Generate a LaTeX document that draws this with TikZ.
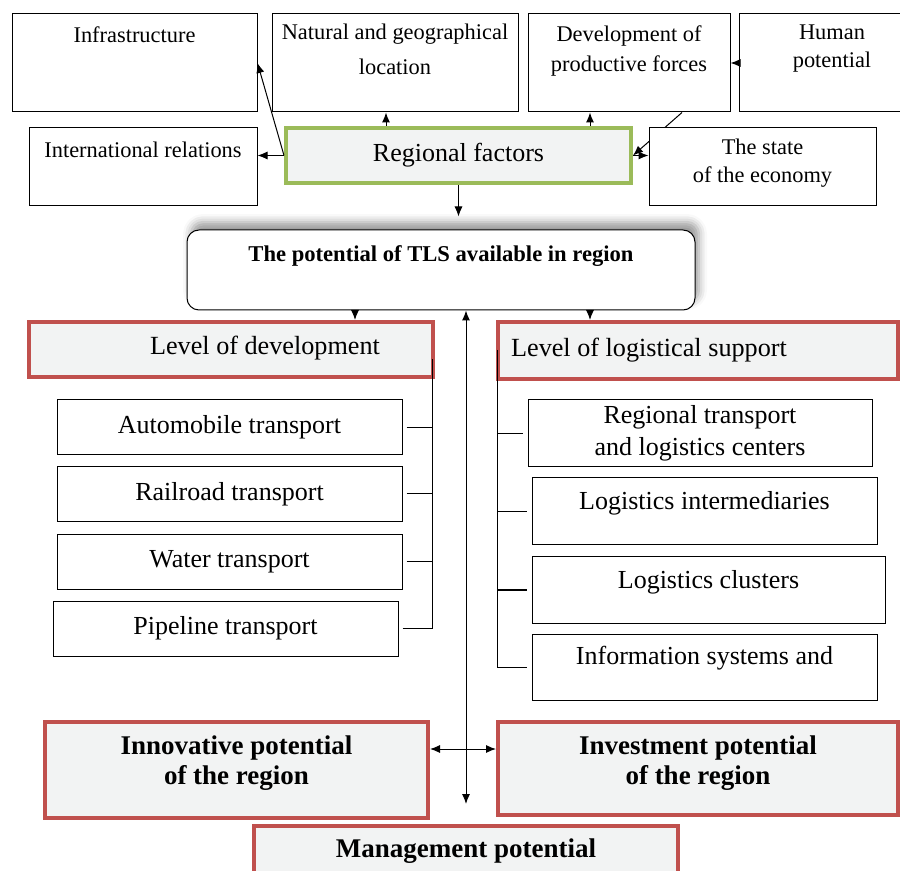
\documentclass[tikz,border=0pt]{standalone}
\usepackage{fontspec}
\setmainfont{Liberation Serif}
\usetikzlibrary{%
		arrows.meta%
		,calc%
		,shadows.blur%
	}
\definecolor{redline}{HTML}{C0504D}
\definecolor{greenline}{HTML}{9BBB59}
\definecolor{boxfill}{HTML}{F2F3F3}

\begin{document}
\begin{tikzpicture}[x=0.5pt, y=-0.5pt,
		box/.style={draw, fill=white, line width=0.5pt, inner sep=0pt},
		redbox/.style={draw=redline, fill=boxfill, line width=2pt, inner sep=0pt},
		greenbox/.style={draw=greenline, fill=boxfill, line width=2pt, inner sep=0pt},
		smalltext/.style={font=\fontsize{11.2}{15}\selectfont, align=center},
		midtext/.style={font=\fontsize{13}{16}\selectfont, align=center},
		bigtext/.style={font=\bfseries\fontsize{13.5}{15}\selectfont, align=center},
		arr/.style={-{Latex[length=5pt, width=4pt]}, line width=0.5pt},
		twoarr/.style={{Latex[length=5pt, width=4pt]}-{Latex[length=5pt, width=4pt]}, line width=0.5pt}
	]
			\useasboundingbox (0,0) rectangle (900,871);
			
			\node[box, minimum width=122.5pt, minimum height=49pt, label={[smalltext, yshift=14pt]center:Infrastructure}] (infra) at (134.5,63) {};
			\node[box, minimum width=123pt, minimum height=49pt, label={[smalltext, yshift=6.75pt, font=\fontsize{11.2}{17.5}\selectfont]center:Natural and geographical\\location}] (nat) at (395,63) {};
			\node[box, minimum width=101pt, minimum height=49pt, label={[smalltext, yshift=6pt]center:Development of\\productive forces}] (dev) at (629,63) {};
			\node[box, minimum width=93pt, minimum height=49pt, label={[smalltext, yshift=7pt, font=\fontsize{11.2}{14}\selectfont]center:Human\\potential}] (hum) at (832,63) {};
			\node[box, minimum width=114pt, minimum height=39pt, label={[smalltext, yshift=8.5pt]center:International relations}] (intl) at (143,167) {};
			\node[greenbox, minimum width=172.5pt, minimum height=27.5pt, font=\fontsize{13}{16}\selectfont] (rf) at (458.5,155.5) {Regional factors};
			
			\draw[arr] (rf.west) -- (infra.east);
			\draw[arr] (rf.west) -- (rf.west -| intl.east);
			\draw[arr] ($(nat.south |- rf.north)+(-4.5pt,0)$) -- ($(nat.south)+(-4.5pt,0)$);
			\draw[arr] ($(dev.south |- rf.north)+(-19.5pt,0)$) -- ($(dev.south)+(-19.5pt,0)$);
			\draw[arr] (hum.west) -- (dev.east);
			\draw[arr] ($(dev.south)+(26.5pt,0)$) -- (rf.east);
			
			\node[box, minimum width=113.5pt, minimum height=39pt, label={[smalltext, yshift=2pt, font=\fontsize{11.2}{14}\selectfont]center:The state\\of the economy}] (state) at (762.5,167) {};
			\draw[arr] (rf.east) -- (rf.east -| state.west);
			
			\node[box, rounded corners=6pt, blur shadow={shadow xshift=2pt, shadow yshift=4pt, shadow blur radius=4pt}, minimum width=254pt, minimum height=40pt, label={[yshift=7pt, font=\bfseries\fontsize{11.3}{14}\selectfont]center:The potential of TLS available in region}] (tls) at (441,270) {};
			\draw[arr, shorten >=6.5pt] (rf.south) -- (rf.south |- tls.north);
			
			\node[redbox, minimum width=202pt, minimum height=27.5pt, label={[midtext, xshift=17pt, yshift=0.75pt, font=\fontsize{13.1}{15}\selectfont]center:Level of development}] (levdev) at (231,349.5) {};
			\node[redbox, minimum width=200pt, minimum height=28.5pt, label={[midtext, xshift=-24.5pt, font=\fontsize{13.1}{15}\selectfont]center:Level of logistical support}] (levlog) at (698,350.5) {};
			\draw[arr] ($(tls.south)+(-43pt,0)$) -- ($(tls.south |- levdev.north)+(-43pt,0)$);
			\draw[arr] ($(tls.south)+(74.5pt,0)$) -- ($(tls.south |- levlog.north)+(74.5pt,0)$);
			
			\node[box, minimum width=172.5pt, minimum height=27.5pt, midtext] (road) at (229.5,427.5) {Automobile transport};
			\node[box, minimum width=172.5pt, minimum height=27.5pt, midtext] (rail) at (229.5,494) {Railroad transport};
			\node[box, minimum width=172.5pt, minimum height=27.5pt, midtext] (water) at (229.5,562) {Water transport};
			\node[box, minimum width=172.5pt, minimum height=27.5pt, midtext] (pipe) at (225.5,628.5) {Pipeline transport};
			
			\node[box, minimum width=172pt, minimum height=33.5pt, midtext] (rtlc) at (700,433.5) {Regional transport\\and logistics centers};
			\node[box, minimum width=172.5pt, minimum height=33.5pt, label={[midtext, yshift=4.25pt]center:Logistics intermediaries}] (inter) at (704.5,511.5) {};
			\node[box, minimum width=176.5pt, minimum height=33pt, label={[midtext, yshift=4pt]center:Logistics clusters}] (clus) at (708.5,590) {};
			\node[box, minimum width=172.5pt, minimum height=33pt, label={[midtext, yshift=4.5pt]center:Information systems and}] (info) at (704.5,667) {};
			
			\coordinate (brl) at (432,359);
			\draw[line width=0.5pt] (brl) -- (brl |- pipe.east);
			\foreach \b in {road, rail, water, pipe}{
				\draw[line width=0.5pt] ([xshift=2pt]\b.east) -- (brl |- \b.east);
			}
			\coordinate (brr) at (497,350);
			\draw[line width=0.5pt] (brr) -- (brr |- info.west);
			\foreach \b in {rtlc, inter, clus, info}{
				\draw[line width=0.5pt] ([xshift=-2.5pt]\b.west) -- (brr |- \b.west);
			}
			
			\node[redbox, minimum width=191.5pt, minimum height=48pt, label={[bigtext, yshift=3.5pt]center:Innovative potential\\of the region}] (innov) at (236.5,770) {};
			\node[redbox, minimum width=200pt, minimum height=46.5pt, label={[bigtext, yshift=2.75pt]center:Investment potential\\of the region}] (invest) at (698,768.5) {};
			\node[redbox, minimum width=212pt, minimum height=32pt, label={[bigtext, yshift=3.5pt]center:Management potential}] (mgmt) at (466,858) {};
			
			\draw[twoarr, shorten >=10pt] (mgmt.north |- tls.south) -- (mgmt.north);
			\draw[twoarr] ($(innov.east)+(0,10.5pt)$) -- ($(innov.east -| invest.west)+(0,10.5pt)$);
		\end{tikzpicture}
\end{document}
